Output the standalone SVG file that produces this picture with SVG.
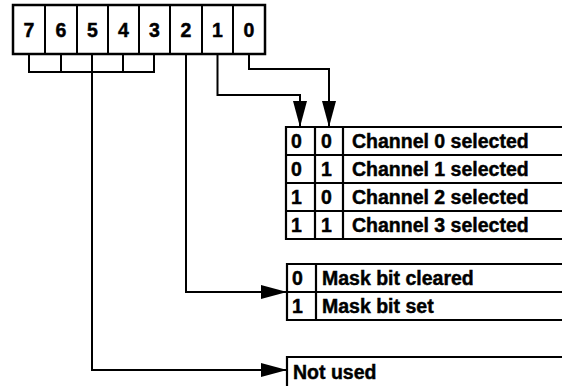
<svg xmlns="http://www.w3.org/2000/svg" width="562" height="386" viewBox="0 0 562 386">
<style>
  .t { font-family: "Liberation Sans", Arial, sans-serif; font-weight: bold; font-size: 19.5px; fill: #000; stroke: #000; stroke-width: 0.45px; }
  .m { text-anchor: middle; }
  .box { fill: #fff; stroke: #000; stroke-width: 2.5; }
  .ln { fill: none; stroke: #000; stroke-width: 2; }
  .w { fill: none; stroke: #000; stroke-width: 2.2; }
</style>
<defs>
  <marker id="ah" markerUnits="userSpaceOnUse" markerWidth="28" markerHeight="16" refX="26" refY="8" orient="auto">
    <path d="M0,1 L26,8 L0,15 Z" fill="#000"/>
  </marker>
</defs>
<rect width="562" height="386" fill="#fff"/>

<g id="register">
  <rect class="box" x="13" y="5" width="252" height="49"/>
  <path class="ln" d="M45,5V54 M77,5V54 M108,5V54 M139,5V54 M170,5V54 M202,5V54 M233,5V54"/>
  <text class="t m" x="29" y="37" font-size="20.5">7</text>
  <text class="t m" x="61" y="37" font-size="20.5">6</text>
  <text class="t m" x="92.5" y="37" font-size="20.5">5</text>
  <text class="t m" x="123.5" y="37" font-size="20.5">4</text>
  <text class="t m" x="154.5" y="37" font-size="20.5">3</text>
  <text class="t m" x="186" y="37" font-size="20.5">2</text>
  <text class="t m" x="217.5" y="37" font-size="20.5">1</text>
  <text class="t m" x="249" y="37" font-size="20.5">0</text>
</g>

<g id="connectors">
  <path class="ln" d="M29,54V72H154V54 M61,54V72 M92,54V72 M123,54V72"/>
  <path class="ln" d="M92,72V370H287" marker-end="url(#ah)"/>
  <path class="ln" d="M186,54V292H287" marker-end="url(#ah)"/>
  <path class="ln" d="M217.5,54V95H300V127" marker-end="url(#ah)"/>
  <path class="ln" d="M249,54V69H329V127" marker-end="url(#ah)"/>
</g>

<g id="channel-table">
  <path class="w" d="M562,127H286V239H562 M286,155H562 M286,183H562 M286,211H562 M315,127V239 M343,127V239"/>
  <text class="t" x="291" y="148">0</text>
  <text class="t" x="321" y="148">0</text>
  <text class="t" x="352" y="148">Channel 0 selected</text>
  <text class="t" x="291" y="176">0</text>
  <text class="t" x="321" y="176">1</text>
  <text class="t" x="352" y="176">Channel 1 selected</text>
  <text class="t" x="291" y="204">1</text>
  <text class="t" x="321" y="204">0</text>
  <text class="t" x="352" y="204">Channel 2 selected</text>
  <text class="t" x="291" y="232">1</text>
  <text class="t" x="321" y="232">1</text>
  <text class="t" x="352" y="232">Channel 3 selected</text>
</g>

<g id="mask-table">
  <path class="w" d="M562,264H287V320H562 M287,292H562 M316,264V320"/>
  <text class="t" x="292" y="285">0</text>
  <text class="t" x="322" y="285">Mask bit cleared</text>
  <text class="t" x="292" y="313">1</text>
  <text class="t" x="322" y="313">Mask bit set</text>
</g>

<g id="not-used">
  <path class="w" d="M562,357H287V390"/>
  <text class="t" x="293" y="379">Not used</text>
</g>
</svg>
